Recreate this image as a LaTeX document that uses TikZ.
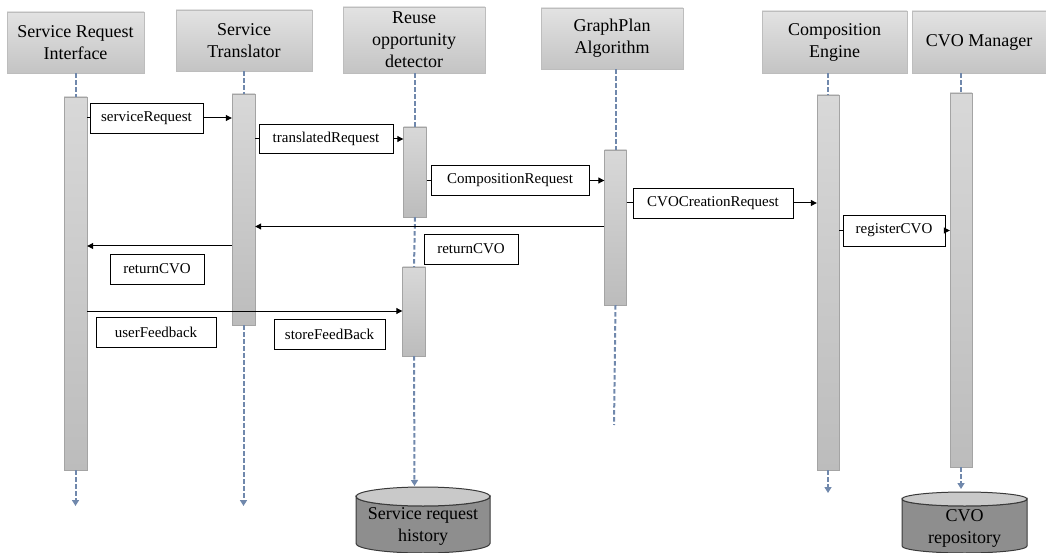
\documentclass[tikz,border=0pt]{standalone}
\usepackage{fontspec}
\setmainfont{Liberation Serif}
\usetikzlibrary{arrows.meta}
\definecolor{lifec}{HTML}{7088AC}
\definecolor{hdtop}{HTML}{E2E2E2}
\definecolor{hdbot}{HTML}{C4C4C4}
\definecolor{hdline}{HTML}{BDBDBD}
\definecolor{bartop}{HTML}{D8D8D8}
\definecolor{barbot}{HTML}{BCBCBC}
\definecolor{barline}{HTML}{A4A4A4}
\definecolor{cylbody}{HTML}{8E8E8E}
\definecolor{cyltop}{HTML}{C9C9C9}
\definecolor{cylline}{HTML}{3A3A3A}
\begin{document}
\begin{tikzpicture}[x=1pt,y=-1pt,
  header/.style={draw=hdline, top color=hdtop, bottom color=hdbot, inner sep=0pt,
    align=center, text=black, font=\fontsize{18}{22}\selectfont},
  actbar/.style={draw=barline, top color=bartop, bottom color=barbot, inner sep=0pt},
  lbl/.style={draw=black, fill=white, line width=0.9pt, inner sep=0pt,
    minimum height=30, font=\fontsize{15}{17}\selectfont},
  life/.style={draw=lifec, line width=2pt, dash pattern=on 4.5pt off 2.5pt},
  lifearr/.style={life, -{Triangle[width=7pt,length=6pt]}},
  msg/.style={draw=black, line width=1pt, -{Triangle[width=6pt,length=6pt]}},
  stub/.style={draw=black, line width=1pt},
  cyltext/.style={align=center, text=black, font=\fontsize{18}{22}\selectfont}
]
\useasboundingbox (0,0) rectangle (1046,553);

% headers
\node[header, minimum width=137, minimum height=61] (h1) at (75.5,42.5) {Service Request\\Interface};
\node[header, minimum width=136, minimum height=61] (h2) at (244,40.5) {Service\\Translator};
\node[header, minimum width=142, minimum height=66] (h3) at (414,40) {Reuse\\opportunity\\detector};
\node[header, minimum width=142, minimum height=61] (h4) at (612,38.5) {GraphPlan\\Algorithm};
\node[header, minimum width=145, minimum height=62] (h5) at (834.5,42) {Composition\\Engine};
\node[header, minimum width=134, minimum height=62] (h6) at (979,42) {CVO Manager};

% activation bars
\node[actbar, minimum width=23, minimum height=373] (b1) at (75.5,283.5) {};
\node[actbar, minimum width=23, minimum height=231] (b2) at (243.5,209.5) {};
\node[actbar, minimum width=23, minimum height=90] (b3) at (415,172) {};
\node[actbar, minimum width=23, minimum height=89] (b3b) at (414,311.5) {};
\node[actbar, minimum width=22, minimum height=155] (b4) at (615.5,227.5) {};
\node[actbar, minimum width=22, minimum height=375] (b5) at (828,282.5) {};
\node[actbar, minimum width=22, minimum height=374] (b6) at (961,280) {};

% end coordinates
\coordinate (e1) at (75.5,506);
\coordinate (e2) at (243.5,506);
\coordinate (e3) at (414.5,486);
\coordinate (e4) at (614,425);
\coordinate (e5) at (828,493);
\coordinate (e6) at (961,489);

% lifelines
\draw[life] (b1.north |- h1.south) -- (b1.north);
\draw[life] (b2.north |- h2.south) -- (b2.north);
\draw[life] (b3.north |- h3.south) -- (b3.north);
\draw[life] (b3.south) -- (b3b.north);
\draw[life] (b4.north |- h4.south) -- (b4.north);
\draw[life] (b5.north |- h5.south) -- (b5.north);
\draw[life] (b6.north |- h6.south) -- (b6.north);
\draw[lifearr] (b1.south) -- (e1);
\draw[lifearr] (b2.south) -- (e2);
\draw[lifearr] (b3b.south) -- (e3);
\draw[life] (b4.south) -- (e4);
\draw[lifearr] (b5.south) -- (e5);
\draw[lifearr] (b6.south) -- (e6);

% cylinders
\filldraw[fill=cylbody, draw=cylline, line width=1pt]
  (356,496.5) -- (356,543.5) arc[start angle=180, end angle=0, x radius=67, y radius=9.5]
  -- (490,496.5) arc[start angle=0, end angle=180, x radius=67, y radius=9.5] -- cycle;
\filldraw[fill=cyltop, draw=cylline, line width=1pt] (423,496.5) ellipse[x radius=67, y radius=9.5];
\node[cyltext] (db1) at (423,526) {Service request\\history};

\filldraw[fill=cylbody, draw=cylline, line width=1pt]
  (902,499) -- (902,546) arc[start angle=180, end angle=0, x radius=62.5, y radius=7]
  -- (1027,499) arc[start angle=0, end angle=180, x radius=62.5, y radius=7] -- cycle;
\filldraw[fill=cyltop, draw=cylline, line width=1pt] (964.5,499) ellipse[x radius=62.5, y radius=7];
\node[cyltext] (db2) at (964.5,528.5) {CVO\\repository};

% message labels
\node[lbl, minimum width=113] (l1) at (146.5,118) {serviceRequest};
\node[lbl, minimum width=134, minimum height=29] (l2) at (326,139) {translatedRequest};
\node[lbl, minimum width=158] (l3) at (510,180.5) {CompositionRequest};
\node[lbl, minimum width=160] (l4) at (713,203) {CVOCreationRequest};
\node[lbl, minimum width=102, minimum height=31] (l5) at (894,230.5) {registerCVO};
\node[lbl, minimum width=94] (l6) at (471,249) {returnCVO};
\node[lbl, minimum width=94] (l7) at (157,269) {returnCVO};
\node[lbl, minimum width=120] (l8) at (156,332) {userFeedback};
\node[lbl, minimum width=111] (l9) at (329.5,334) {storeFeedBack};

% forward messages
\draw[stub] (b1.east |- l1.west) -- (l1.west);
\draw[msg] (l1.east) -- (b2.west |- l1.east);
\draw[stub] (b2.east |- l2.west) -- (l2.west);
\draw[msg] (l2.east) -- (b3.west |- l2.east);
\draw[stub] (b3.east |- l3.west) -- (l3.west);
\draw[msg] (l3.east) -- (b4.west |- l3.east);
\draw[stub] (b4.east |- l4.west) -- (l4.west);
\draw[msg] (l4.east) -- (b5.west |- l4.east);
\draw[stub] (b5.east |- l5.west) -- (l5.west);
\draw[msg] (l5.east) -- (b6.west |- l5.east);

% return messages
\coordinate (y1) at (0,226.5);
\coordinate (y2) at (0,246);
\coordinate (y3) at (0,311);
\draw[msg] (b4.west |- y1) -- (b2.east |- y1);
\draw[msg] (b2.west |- y2) -- (b1.east |- y2);
\draw[msg] (b1.east |- y3) -- (b3b.west |- y3);
\end{tikzpicture}
\end{document}
